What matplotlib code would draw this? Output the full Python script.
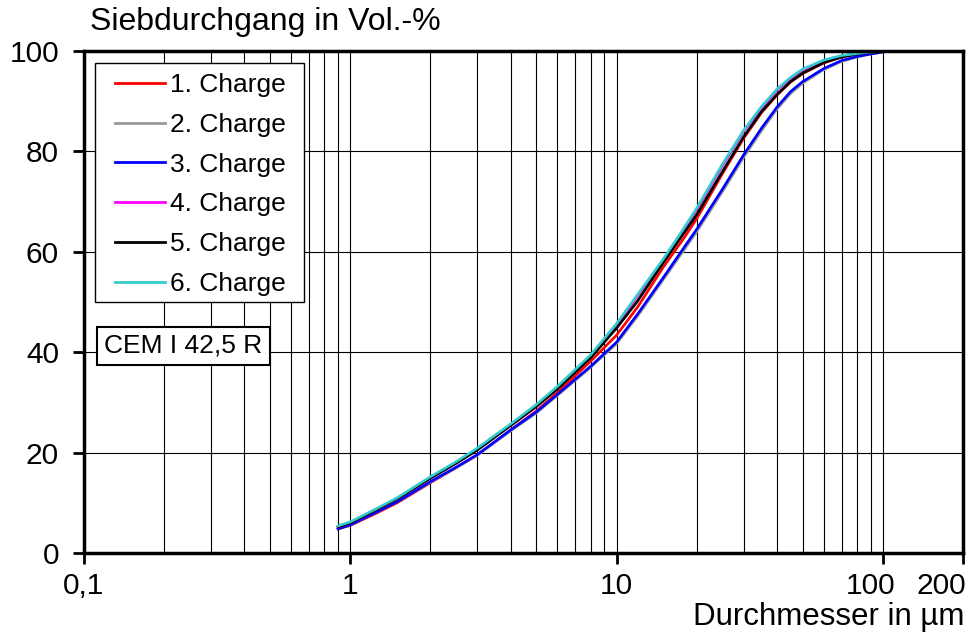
import matplotlib
matplotlib.use('agg')
import matplotlib.pyplot as plt
import matplotlib.transforms as mtransforms
from matplotlib.patches import Rectangle
from matplotlib.ticker import FixedLocator, NullLocator

plt.rcParams['font.family'] = ['Liberation Sans', 'DejaVu Sans']

# particle size in micrometre
durchmesser = [0.9, 1, 1.25, 1.5, 2, 2.5, 3, 4, 5, 6, 8, 10, 12, 15, 18, 20,
               25, 30, 35, 40, 45, 50, 60, 70, 80, 90, 100, 105]

# passing in vol.-% per batch
charge_1 = [4.8, 5.5, 7.9, 10.0, 14.0, 17.0, 19.5, 24.5, 28.3, 32.0, 38.2, 43.4, 49.0, 57.0, 62.9, 66.6,
            75.6, 82.6, 87.7, 91.2, 93.8, 95.5, 97.6, 98.8, 99.4, 99.7, 99.9, 100]
charge_2 = [4.9, 5.6, 8.1, 10.2, 14.1, 17.0, 19.5, 24.3, 27.9, 31.4, 37.0, 41.7, 47.2, 54.5, 60.5, 64.0,
            72.0, 78.8, 84.1, 88.4, 91.5, 93.6, 96.3, 97.9, 98.8, 99.4, 99.8, 100]
charge_3 = [4.8, 5.6, 8.1, 10.2, 14.2, 17.1, 19.6, 24.5, 28.1, 31.6, 37.2, 42.0, 47.6, 54.9, 61.0, 64.5,
            72.5, 79.3, 84.6, 88.8, 91.9, 93.9, 96.5, 98.1, 98.9, 99.4, 99.8, 100]
charge_4 = [5.2, 6.0, 8.6, 10.8, 14.9, 17.9, 20.6, 25.4, 29.2, 32.9, 39.2, 45.4, 51.2, 58.3, 64.6, 68.4,
            77.2, 84.0, 88.6, 92.2, 94.5, 96.2, 98.1, 99.0, 99.5, 99.8, 99.95, 100]
charge_5 = [5.2, 6.0, 8.6, 10.8, 14.9, 17.9, 20.5, 25.4, 29.2, 32.7, 38.9, 44.8, 50.2, 57.9, 63.9, 67.4,
            76.0, 82.9, 87.9, 91.3, 93.9, 95.6, 97.7, 98.8, 99.4, 99.7, 99.9, 100]
charge_6 = [5.4, 6.2, 8.8, 11.0, 15.2, 18.2, 20.9, 25.7, 29.6, 33.2, 39.5, 45.7, 51.5, 58.6, 64.9, 68.7,
            77.5, 84.2, 88.9, 92.4, 94.7, 96.4, 98.2, 99.1, 99.5, 99.8, 99.95, 100]

serien = [charge_1, charge_2, charge_3, charge_4, charge_5, charge_6]
namen = ['1. Charge', '2. Charge', '3. Charge', '4. Charge', '5. Charge', '6. Charge']
farben = ['#ff0000', '#999999', '#0000ff', '#ff00ff', '#000000', '#33cccc']

x_ticks = [0.1, 1, 10, 100, 200]
x_ticklabels = ['0,1', '1', '10', '100', '200']
y_ticks = [0, 20, 40, 60, 80, 100]

W, H = 976, 641
fig = plt.figure(figsize=(W / 100, H / 100), dpi=100)
ax = fig.add_axes([84 / W, 1 - 553 / H, 879 / W, 502 / H])

for werte, name, farbe in zip(serien, namen, farben):
    ax.plot(durchmesser, werte, color=farbe, lw=1.9, label=name, zorder=3)

ax.set_xscale('log')
ax.set_xlim(0.1, 200)
ax.set_ylim(0, 100)

# grid at 1..9 of every decade
grid_x = [m * 10 ** e for e in range(-1, 2) for m in range(1, 10)] + [100]
for gx in grid_x[1:]:
    ax.axvline(gx, color='black', lw=0.8, zorder=1)
for gy in y_ticks[1:-1]:
    ax.axhline(gy, color='black', lw=0.8, zorder=1)

ax.xaxis.set_major_locator(FixedLocator(x_ticks))
ax.xaxis.set_minor_locator(NullLocator())
ax.set_xticklabels(x_ticklabels)
ax.set_yticks(y_ticks)
ax.tick_params(axis='both', direction='out', length=8, width=2, labelsize=21.5)
ax.tick_params(axis='x', pad=6)
ax.tick_params(axis='y', pad=10)
xl = ax.get_xticklabels()
xl[-1].set_horizontalalignment('right')
xl[-1].set_transform(xl[-1].get_transform() + mtransforms.ScaledTranslation(3 / 100, 0, fig.dpi_scale_trans))
xl[-2].set_transform(xl[-2].get_transform() + mtransforms.ScaledTranslation(-12 / 100, 0, fig.dpi_scale_trans))

for sp in ax.spines.values():
    sp.set_linewidth(2.5)
    sp.set_zorder(4)

fig.text(90 / W, 1 - 22 / H, 'Siebdurchgang in Vol.-%', fontsize=23, ha='left', va='center')
fig.text(964 / W, 1 - 617 / H, 'Durchmesser in µm', fontsize=22.5, ha='right', va='center')

# legend frame drawn separately (wider left margin than matplotlib gives)
rahmen = Rectangle((95 / W, 1 - 302 / H), 209 / W, 239 / H, transform=fig.transFigure,
                   facecolor='white', edgecolor='black', lw=1.0, zorder=5, clip_on=False)
ax.add_patch(rahmen)
leg = ax.legend(loc='upper left', bbox_to_anchor=(115 / W, 1 - 73 / H), bbox_transform=fig.transFigure,
                fontsize=19, frameon=False, handlelength=1.9, handletextpad=0.2,
                labelspacing=0.6, borderpad=0, borderaxespad=0)
for ln in leg.get_lines():
    ln.set_linewidth(2)
leg.set_zorder(6)

ax.text((104.5 - 84) / 879, (553 - 346) / 502, 'CEM I 42,5 R', transform=ax.transAxes, fontsize=19,
        ha='left', va='center', zorder=5,
        bbox=dict(boxstyle='square,pad=0.27', facecolor='white', edgecolor='black', lw=1.5))

fig.savefig('out.png', dpi=100)
